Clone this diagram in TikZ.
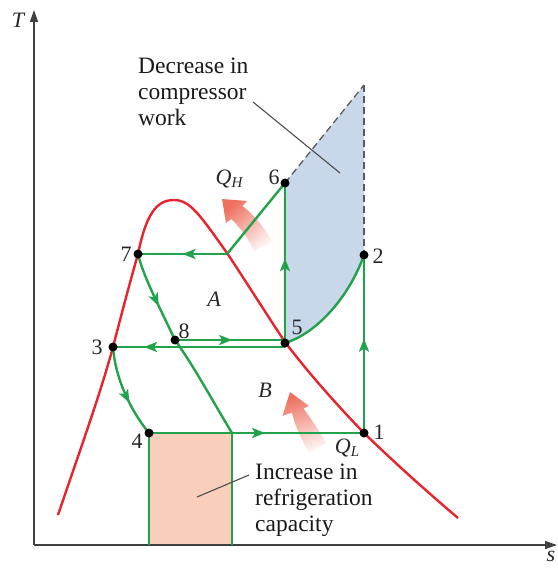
\documentclass[tikz,border=0pt]{standalone}
\usepackage{fontspec}
\setmainfont{Liberation Serif}
\usetikzlibrary{arrows.meta,decorations.markings}
\definecolor{grn}{RGB}{34,162,74}
\definecolor{rd}{RGB}{232,35,45}
\definecolor{bluefill}{RGB}{201,215,235}
\definecolor{peach}{RGB}{249,207,188}
\definecolor{salm}{RGB}{238,112,95}
\begin{document}
\begin{tikzpicture}[x=1pt,y=-1pt,
  cyc/.style={draw=grn, line width=2.4pt},
  dome/.style={draw=rd, line width=2.4pt},
  dotn/.style={circle, fill=black, inner sep=0pt, minimum size=9pt},
  lbl/.style={font=\fontsize{22}{22}\selectfont, inner sep=0pt, text=black!85},
  txt/.style={font=\fontsize{23.5}{26}\selectfont, inner sep=0pt, align=left, anchor=north west, text=black!90},
  leader/.style={draw=black!70, line width=1.1pt},
  dsh/.style={draw=black!65, line width=1.3pt, dash pattern=on 7pt off 4pt},
  axisline/.style={draw=black!75, line width=1.4pt, -{Triangle[length=12pt,width=8pt]}},
  midarrow/.style={postaction={decorate}, decoration={markings, mark=at position #1 with {\arrow{Stealth[length=13pt,width=10pt,inset=3pt]}}}},
]
\useasboundingbox (0,0) rectangle (557,569);

% key coordinates
\coordinate (c1) at (364,433);
\coordinate (c2) at (364,255);
\coordinate (c3) at (113,347);
\coordinate (c4) at (149,433);
\coordinate (c5) at (285,343);
\coordinate (c5a) at (285,347);
\coordinate (c5b) at (285,340);
\coordinate (c6) at (285,183);
\coordinate (c7) at (138,254);
\coordinate (c8) at (175,340);
\coordinate (j76) at (227,254);
\coordinate (j41) at (232,433);
\coordinate (top) at (364,85);
\coordinate (O) at (34,545);
\coordinate (Ttip) at (34,10);
\coordinate (stip) at (557,545);
\coordinate (r4b) at (149,545);
\coordinate (r41b) at (232,545);

% filled regions
\fill[bluefill] (c6) -- (top) -- (c2) .. controls (350,295) and (318,333) .. (c5) -- cycle;
\fill[peach] (c4) rectangle (r41b);

% heat arrows
\shade[top color=salm, middle color=salm!65, bottom color=salm!8, shading angle=40]
  (222,199) -- (247,201) -- (242.5,206) .. controls (255,216) and (265,228) .. (272,242)
  -- (254,251) .. controls (249,239) and (241,229) .. (231.5,219) -- (226,223) -- cycle;
\shade[top color=salm, middle color=salm!65, bottom color=salm!8, shading angle=20]
  (290,392) -- (309,406) -- (303.5,408.5) .. controls (312,420) and (320,432) .. (326,443)
  -- (309,453) .. controls (302,440) and (295,427) .. (292,412.5) -- (282.5,416) -- cycle;

% axes
\draw[axisline] (O) -- (Ttip);
\draw[axisline] (O) -- (stip);

% saturation dome
\draw[dome] (58,515) .. controls (80,450) and (100,395) .. (113,347)
  .. controls (121,316) and (130,282) .. (138,254)
  .. controls (146,215) and (156,200) .. (174,200)
  .. controls (190,200) and (200,215) .. (227,253)
  .. controls (245,280) and (265,312) .. (285,342)
  .. controls (310,375) and (338,406) .. (364,433)
  .. controls (395,463) and (425,490) .. (458,518);

% cycle lines
\draw[cyc, midarrow=0.53] (c1) -- (c2);
\draw[cyc] (c5) .. controls (318,333) and (350,295) .. (c2);
\draw[cyc, midarrow=0.53] (c5) -- (c6);
\draw[cyc] (c6) -- (j76);
\draw[cyc, midarrow=0.5] (j76) -- (c7);
\draw[cyc, midarrow=0.6] (c7) .. controls (143,276) and (160,308) .. (c8);
\draw[cyc] (c8) .. controls (195,368) and (212,400) .. (j41);
\draw[cyc, midarrow=0.52] (c8) -- (c5b);
\draw[cyc, midarrow=0.82] (c5a) -- (c3);
\draw[cyc, midarrow=0.62] (c3) .. controls (115,377) and (130,410) .. (c4);
\draw[cyc, midarrow=0.54] (c4) -- (c1);
\draw[cyc] (c4) -- (r4b);
\draw[cyc] (j41) -- (r41b);

% dashed lines
\draw[dsh] (c6) -- (top);
\draw[dsh] (top) -- (c2);

% leaders
\coordinate (ld1) at (253,102);
\coordinate (ld2) at (340,173);
\coordinate (li1) at (197,497);
\coordinate (li2) at (249,475);
\draw[leader] (ld1) -- (ld2);
\draw[leader] (li1) -- (li2);

% dots
\foreach \p in {c1,c2,c3,c4,c5,c6,c7,c8}
  \node[dotn] (d\p) at (\p) {};

% labels
\node[lbl] (l1) at (379,432) {1};
\node[lbl] (l2) at (378,256) {2};
\node[lbl] (l3) at (97,347) {3};
\node[lbl] (l4) at (137,441) {4};
\node[lbl] (l5) at (297,327) {5};
\node[lbl] (l6) at (274,177) {6};
\node[lbl] (l7) at (126,254) {7};
\node[lbl] (l8) at (184,331) {8};
\node[lbl, font=\fontsize{22}{22}\selectfont\itshape] (lA) at (214,299) {A};
\node[lbl, font=\fontsize{22}{22}\selectfont\itshape] (lB) at (265,390) {B};
\node[lbl, font=\fontsize{22}{22}\selectfont\itshape] (lT) at (18,20) {T};
\node[lbl, font=\fontsize{22}{22}\selectfont\itshape] (ls) at (551,556) {s};
\node[lbl, font=\fontsize{22}{22}\selectfont\itshape] (lQH) at (229,179) {Q\raisebox{-0.3ex}{\fontsize{15}{15}\selectfont H}};
\node[lbl, font=\fontsize{22}{22}\selectfont\itshape] (lQL) at (347,448) {Q\raisebox{-0.3ex}{\fontsize{15}{15}\selectfont L}};

% texts
\node[txt] (tdec) at (138,58) {Decrease in\\compressor\\work};
\node[txt] (tinc) at (255,464) {Increase in\\refrigeration\\capacity};
\end{tikzpicture}
\end{document}
